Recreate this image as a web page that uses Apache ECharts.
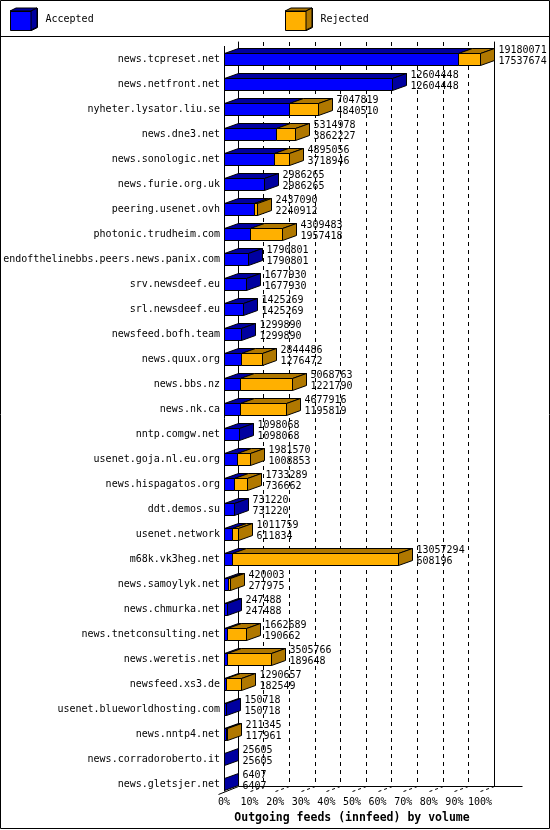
<!DOCTYPE html>
<html><head><meta charset="utf-8">
<script src="https://cdn.jsdelivr.net/npm/echarts@6/dist/echarts.min.js"></script>
<style>html,body{margin:0;padding:0;background:#fff}#c{width:550px;height:830px}</style>
</head><body><div id="c"></div>
<script>
// ---- data ----
const hosts = [
  'news.tcpreset.net','news.netfront.net','nyheter.lysator.liu.se','news.dne3.net','news.sonologic.net',
  'news.furie.org.uk','peering.usenet.ovh','photonic.trudheim.com','endofthelinebbs.peers.news.panix.com','srv.newsdeef.eu',
  'srl.newsdeef.eu','newsfeed.bofh.team','news.quux.org','news.bbs.nz','news.nk.ca',
  'nntp.comgw.net','usenet.goja.nl.eu.org','news.hispagatos.org','ddt.demos.su','usenet.network',
  'm68k.vk3heg.net','news.samoylyk.net','news.chmurka.net','news.tnetconsulting.net','news.weretis.net',
  'newsfeed.xs3.de','usenet.blueworldhosting.com','news.nntp4.net','news.corradoroberto.it','news.gletsjer.net'
];
const totals = [
  19180071,12604448,7047819,5314978,4895056,
  2986265,2437090,4309483,1790801,1677930,
  1425269,1299890,2844486,5068763,4677916,
  1098068,1981570,1733289,731220,1011759,
  13057294,420003,247488,1662689,3505766,
  1290657,150718,211345,25605,6407
];
const accepted = [
  17537674,12604448,4840510,3862227,3718946,
  2986265,2240912,1957418,1790801,1677930,
  1425269,1299890,1276472,1221790,1195819,
  1098068,1008853,736662,731220,611834,
  608196,277975,247488,190662,189648,
  182549,150718,117961,25605,6407
];
const tickValues = [0,10,20,30,40,50,60,70,80,90,100];
const seriesNames = ['Accepted','Rejected'];
const axisTitle = 'Outgoing feeds (innfeed) by volume';

// ---- style ----
const FONT = '"DejaVu Sans Mono","Liberation Mono",monospace';
const BLUE='#0000ff', BLUE_D='#0000a0', ORANGE='#ffb000', ORANGE_D='#b07800';
const DX=14, DY=5;

const maxTotal = Math.max(...totals);
const rows = hosts.map((h,i)=>[i, accepted[i]/maxTotal*100, totals[i]/maxTotal*100, totals[i], accepted[i]]);

function geom(api){
  const i = api.value(0);
  const band = api.size([0,1])[1];
  const h = Math.round(band*0.48);
  const c = api.coord([0,i]);
  const yT = Math.round(c[1]-h/2)+0.5;
  return {i, yT, yB: yT+h, yc: c[1]};
}
function px(api, v, i){ return Math.round(api.coord([v,i])[0])+0.5; }
function faces(x0,x1,yT,yB,front,dark,side,sideColor){
  const ch = [];
  if (x1 > x0) {
    ch.push({type:'rect', shape:{x:x0,y:yT,width:x1-x0,height:yB-yT}, style:{fill:front,stroke:'#000',lineWidth:1}});
    ch.push({type:'polygon', shape:{points:[[x0,yT],[x0+DX,yT-DY],[x1+DX,yT-DY],[x1,yT]]}, style:{fill:dark,stroke:'#000',lineWidth:1}});
  }
  if (side) ch.push({type:'polygon', shape:{points:[[x1,yT],[x1+DX,yT-DY],[x1+DX,yB-DY],[x1,yB]]}, style:{fill:sideColor,stroke:'#000',lineWidth:1}});
  return ch;
}
function renderAccepted(params, api){
  const g = geom(api);
  const x0 = px(api,0,g.i), x1 = px(api,api.value(1),g.i);
  return {type:'group', children: faces(x0,x1,g.yT,g.yB,BLUE,BLUE_D,false)};
}
function renderRejected(params, api){
  const g = geom(api);
  const x1 = px(api,api.value(1),g.i), x2 = px(api,api.value(2),g.i);
  const rej = api.value(3) - api.value(4);
  const ch = faces(x1,x2,g.yT,g.yB,ORANGE,ORANGE_D,true, rej>0 ? ORANGE_D : BLUE_D);
  const tx = x2 + DX + 4;
  ch.push({type:'text', x:tx, y:g.yc-9, style:{text:String(api.value(3)), font:'10px '+FONT, fill:'#000', textAlign:'left', textVerticalAlign:'middle', align:'left', verticalAlign:'middle'}});
  ch.push({type:'text', x:tx, y:g.yc+2, style:{text:String(api.value(4)), font:'10px '+FONT, fill:'#000', textAlign:'left', textVerticalAlign:'middle', align:'left', verticalAlign:'middle'}});
  return {type:'group', children: ch};
}
function renderFrame(params, api){
  const v = api.value(0);
  const cs = params.coordSys;
  const band = api.size([0,1])[1];
  const floorF = Math.round(cs.y + cs.height - band/2 + Math.round(band*0.48)/2) + 1.5;
  const floorB = floorF - DY;
  const x = px(api, v, 0);
  const ls = {stroke:'#000', lineWidth:1};
  const ch = [];
  if (v > 0) ch.push({type:'line', shape:{x1:x, y1:floorF, x2:x+DX, y2:floorB}, style:{stroke:'#000', lineWidth:1, lineDash:[3,3]}});
  if (params.dataIndex === 0) {
    const xr = px(api, 100, 0);
    ch.push({type:'line', shape:{x1:x, y1:Math.round(cs.y)-1, x2:x, y2:floorF}, style:ls});
    ch.push({type:'line', shape:{x1:x+DX, y1:floorB, x2:xr+DX+28, y2:floorB}, style:ls});
    ch.push({type:'line', shape:{x1:x-6, y1:floorF+3, x2:x+DX, y2:floorB}, style:ls});
  }
  return {type:'group', children: ch};
}

const cubePath = 'path://M0 3H21V22H0ZM0 3L6 0H27L21 3ZM21 3L27 0V19L21 22Z';
function legendOverlay(x, dark){
  return [
    {type:'polygon', z:100, shape:{points:[[x,11],[x+6,8],[x+27,8],[x+21,11]]}, style:{fill:dark, stroke:'#000', lineWidth:1}},
    {type:'polygon', z:100, shape:{points:[[x+21,11],[x+27,8],[x+27,27],[x+21,30]]}, style:{fill:dark, stroke:'#000', lineWidth:1}}
  ];
}
const legendBase = {orient:'horizontal', top:8, padding:0, itemWidth:27, itemHeight:22, icon:cubePath,
  itemStyle:{borderColor:'#000', borderWidth:1},
  textStyle:{fontFamily:FONT, fontSize:10, color:'#000', padding:[3,0,0,3]}, selectedMode:false};

const chart = echarts.init(document.getElementById('c'), null, {renderer:'canvas'});
chart.setOption({
  backgroundColor:'#fff',
  animation:false,
  legend:[
    Object.assign({}, legendBase, {left:10, data:[seriesNames[0]]}),
    Object.assign({}, legendBase, {left:285, data:[seriesNames[1]]})
  ],
  grid:[
    {left:224, top:46.5, width:256, height:750, containLabel:false},
    {left:238, top:42, width:256, height:744, containLabel:false}
  ],
  xAxis:[
    {gridIndex:0, type:'value', min:0, max:100, interval:10,
     axisLine:{show:false, onZero:false}, axisTick:{show:false}, splitLine:{show:false},
     axisLabel:{formatter:'{value}%', fontFamily:FONT, fontSize:10, color:'#000', margin:1},
     name:axisTitle, nameLocation:'middle', nameGap:14,
     nameTextStyle:{fontFamily:FONT, fontSize:11.5, fontWeight:'bold', color:'#000'}},
    {gridIndex:1, type:'value', min:0, max:100, interval:10,
     axisLine:{show:false, onZero:false}, axisTick:{show:false}, axisLabel:{show:false},
     splitLine:{show:true, lineStyle:{color:'#000', width:1, type:[4,4]}}}
  ],
  yAxis:[
    {gridIndex:0, type:'category', data:hosts, inverse:true,
     axisLine:{show:false}, axisTick:{show:false}, splitLine:{show:false},
     axisLabel:{fontFamily:FONT, fontSize:10, color:'#000', margin:4}},
    {gridIndex:1, type:'value', position:'left', min:0, max:1,
     axisLine:{show:true, onZero:false, lineStyle:{color:'#000', width:1}}, axisTick:{show:false}, axisLabel:{show:false}, splitLine:{show:false}},
    {gridIndex:1, type:'value', position:'right', min:0, max:1,
     axisLine:{show:true, onZero:false, lineStyle:{color:'#000', width:1}}, axisTick:{show:false}, axisLabel:{show:false}, splitLine:{show:false}}
  ],
  series:[
    {name:'frame', type:'custom', xAxisIndex:0, yAxisIndex:0, z:1, silent:true,
     data: tickValues.map(v=>[v,0]), encode:{x:0, y:1}, renderItem:renderFrame},
    {name:seriesNames[0], type:'custom', xAxisIndex:0, yAxisIndex:0, z:2,
     itemStyle:{color:BLUE}, data:rows, encode:{x:[1,2], y:0}, renderItem:renderAccepted},
    {name:seriesNames[1], type:'custom', xAxisIndex:0, yAxisIndex:0, z:3,
     itemStyle:{color:ORANGE}, data:rows, encode:{x:[1,2], y:0}, renderItem:renderRejected}
  ],
  graphic:[
    {type:'rect', z:100, shape:{x:0.5, y:0.5, width:549, height:828}, style:{fill:'none', stroke:'#000', lineWidth:1}},
    {type:'line', z:100, shape:{x1:0, y1:36.5, x2:550, y2:36.5}, style:{stroke:'#000', lineWidth:1}}
  ].concat(legendOverlay(10, BLUE_D), legendOverlay(285, ORANGE_D))
});
</script></body></html>
